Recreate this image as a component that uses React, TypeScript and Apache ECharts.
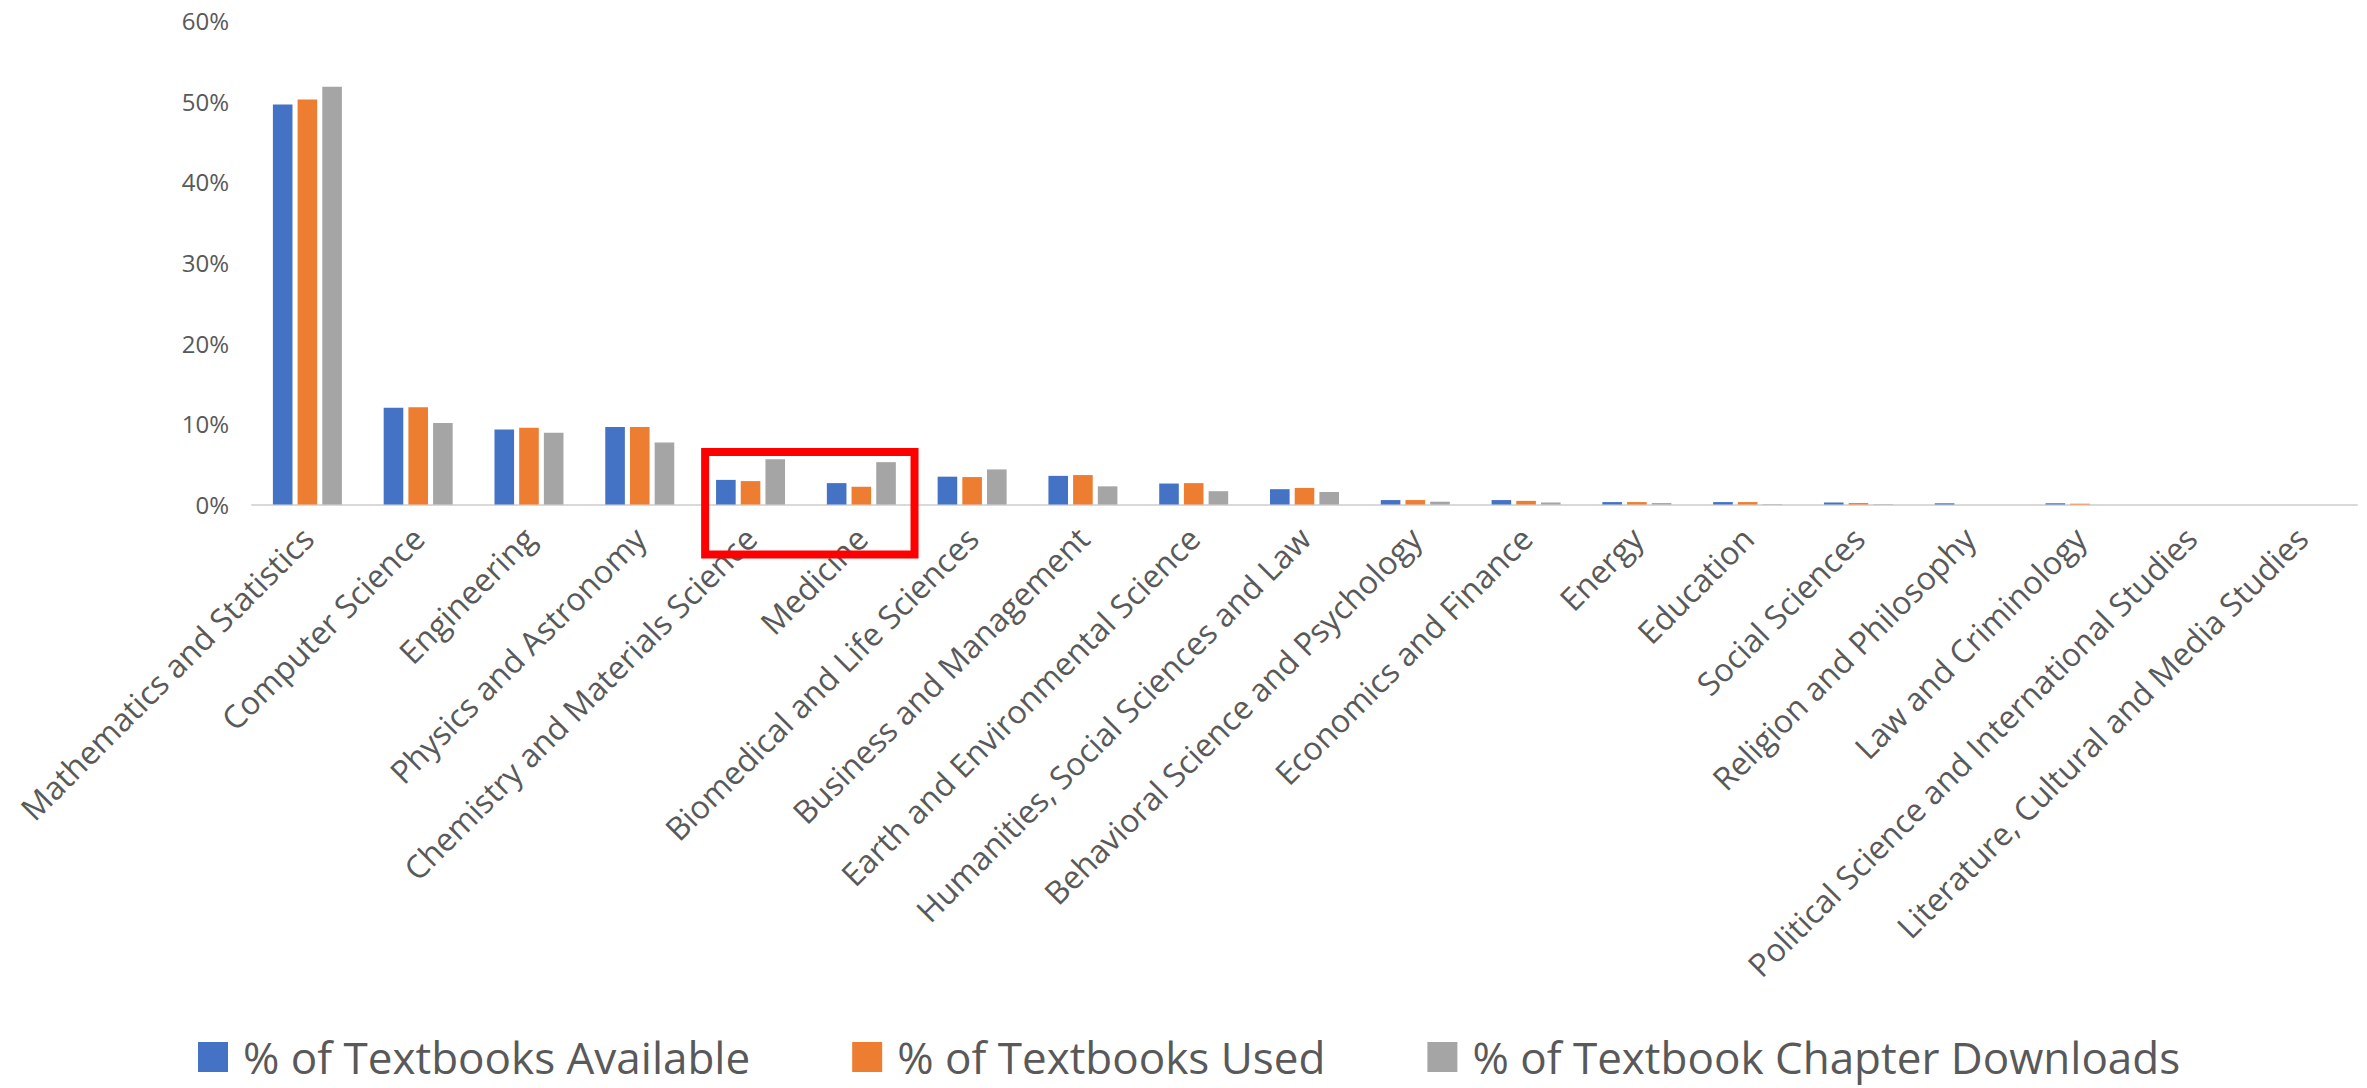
import React, { useEffect, useRef } from "react";
import * as echarts from "echarts";

const categories = [
  "Mathematics and Statistics",
  "Computer Science",
  "Engineering",
  "Physics and Astronomy",
  "Chemistry and Materials Science",
  "Medicine",
  "Biomedical and Life Sciences",
  "Business and Management",
  "Earth and Environmental Science",
  "Humanities, Social Sciences and Law",
  "Behavioral Science and Psychology",
  "Economics and Finance",
  "Energy",
  "Education",
  "Social Sciences",
  "Religion and Philosophy",
  "Law and Criminology",
  "Political Science and International Studies",
  "Literature, Cultural and Media Studies",
];

const available = [49.6, 12.0, 9.3, 9.6, 3.05, 2.65, 3.45, 3.55, 2.6, 1.9, 0.55, 0.55, 0.3, 0.3, 0.25, 0.15, 0.15, 0, 0];
const used = [50.2, 12.05, 9.5, 9.6, 2.9, 2.2, 3.4, 3.65, 2.65, 2.05, 0.55, 0.45, 0.3, 0.3, 0.18, 0, 0.1, 0, 0];
const downloads = [51.8, 10.1, 8.9, 7.7, 5.6, 5.25, 4.35, 2.25, 1.65, 1.55, 0.35, 0.25, 0.18, 0.05, 0.05, 0, 0, 0, 0];

const seriesNames = [
  "% of Textbooks Available",
  "% of Textbooks Used",
  "% of Textbook Chapter Downloads",
];
const colors = ["#4472C4", "#ED7D31", "#A5A5A5"];
const yTicks = [0, 10, 20, 30, 40, 50, 60];

const highlightFrom = "Chemistry and Materials Science";
const highlightTo = "Medicine";
const highlightTop = 6.5;

export default function App() {
  const ref = useRef<HTMLDivElement>(null);
  useEffect(() => {
    if (!ref.current) return;
    const chart = echarts.init(ref.current, null, { renderer: "svg" });
    const font = "'Open Sans', sans-serif";
    const seriesData = [available, used, downloads];
    chart.setOption({
      animation: false,
      color: colors,
      grid: { left: 252, right: 10, top: 20.5, bottom: 583.5, containLabel: false },
      legend: {
        data: seriesNames,
        left: 198,
        top: 1035,
        padding: 0,
        icon: "rect",
        itemWidth: 30,
        itemHeight: 30,
        itemGap: 102,
        textStyle: {
          fontFamily: font,
          fontSize: 44,
          color: "#595959",
          padding: [0, 0, 0, 10],
        },
      },
      xAxis: {
        type: "category",
        data: categories,
        axisLine: { lineStyle: { color: "#D9D9D9", width: 2 } },
        axisTick: { show: false },
        axisLabel: {
          rotate: 45,
          interval: 0,
          margin: 28,
          color: "#595959",
          fontFamily: font,
          fontSize: 32,
        },
      },
      yAxis: {
        type: "value",
        min: yTicks[0],
        max: yTicks[yTicks.length - 1],
        interval: 10,
        splitLine: { show: false },
        axisLine: { show: false },
        axisTick: { show: false },
        axisLabel: {
          formatter: (v: number) => `${v}%`,
          color: "#595959",
          fontFamily: font,
          fontSize: 24,
          margin: 23,
        },
      },
      series: seriesNames.map((name, i) => ({
        name,
        type: "bar",
        data: seriesData[i],
        barWidth: 19.6,
        barGap: "26%",
        itemStyle: { color: colors[i] },
      })),
    });

    const x1 = chart.convertToPixel({ xAxisIndex: 0 }, highlightFrom) as number;
    const x2 = chart.convertToPixel({ xAxisIndex: 0 }, highlightTo) as number;
    const band = x2 - x1;
    const yTop = chart.convertToPixel({ yAxisIndex: 0 }, highlightTop) as number;
    const yZero = chart.convertToPixel({ yAxisIndex: 0 }, 0) as number;
    const left = x1 - 0.41 * band;
    const right = x2 + 0.48 * band;
    const bottom = yZero + 50;
    chart.setOption({
      graphic: [
        {
          type: "rect",
          shape: { x: left, y: yTop, width: right - left, height: bottom - yTop },
          style: { fill: "none", stroke: "#FF0000", lineWidth: 8 },
          z: 100,
        },
      ],
    });

    return () => chart.dispose();
  }, []);
  return (
    <div
      ref={ref}
      style={{ position: "fixed", left: 0, top: 0, width: 2367, height: 1088, background: "#fff" }}
    />
  );
}
